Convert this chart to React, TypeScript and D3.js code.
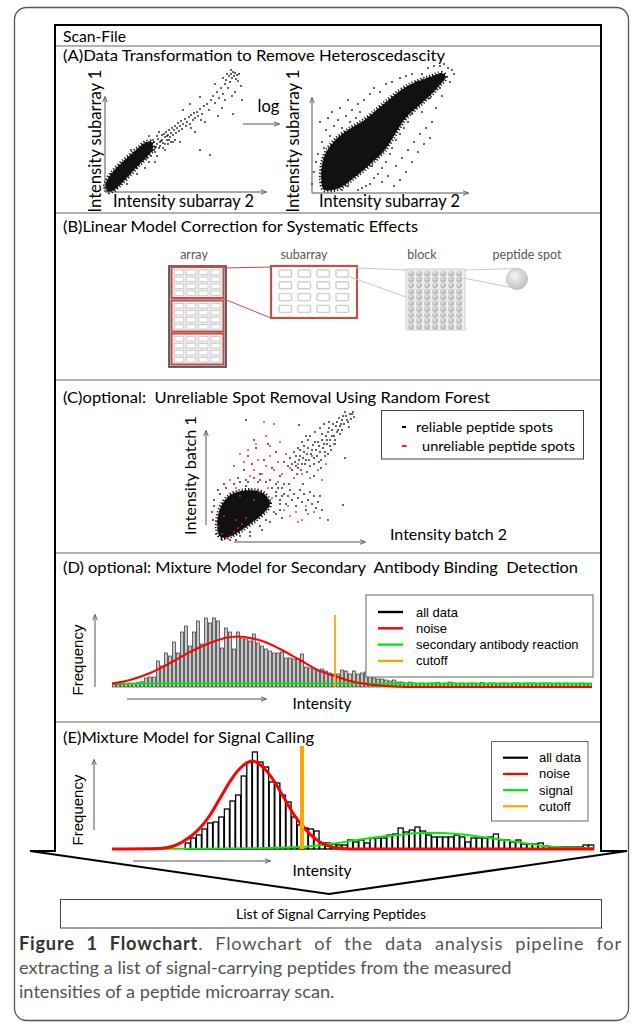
import React, { useLayoutEffect, useRef, useState } from 'react';
import * as d3 from 'd3';

const W = 633, H = 1026;
const CAL = "Lato, 'Open Sans', sans-serif";
const ARIAL = "'Liberation Sans', Arial, sans-serif";

// ---------- titles ----------
const sectionTitles = [
  { text: 'Scan-File', y: 42, len: 63 },
  { text: '(A)Data Transformation to Remove Heteroscedascity', y: 61, len: 382 },
  { text: '(B)Linear Model Correction for Systematic Effects', y: 232, len: 355 },
  { text: '(C)optional:  Unreliable Spot Removal Using Random Forest', y: 403, len: 427 },
  { text: '(D) optional: Mixture Model for Secondary  Antibody Binding  Detection', y: 573, len: 515 },
  { text: '(E)Mixture Model for Signal Calling', y: 743, len: 251 },
];
const separators = [46, 213, 380, 553, 722];

// ---------- panel A scatter (intensity units) ----------
const aLeftCore: [number, number][] = [[3,0],[0,6],[3,14],[9,22],[17,30],[26,38],[34,45],[41,50],[47,50],[48,43],[42,35],[33,26],[24,16],[15,7],[8,1]];
const aLeftPoints: [number, number][] = [
  [40,36],[42,44],[44,38],[46,46],[47,41],[49,50],[50,44],[52,48],[53,53],[55,46],[56,51],[57,57],[58,49],[60,55],[61,60],[62,52],[63,57],[64,62],[65,55],[66,59],[67,64],[68,57],[69,62],[70,66],[71,59],[72,64],[73,69],[74,61],[75,66],[76,71],[77,63],[78,68],[80,73],[81,66],[82,70],[84,75],[85,68],[86,77],[88,72],[89,79],[90,74],[92,80],[93,76],[95,83],[97,78],[99,86],[102,88],[104,82],[106,92],[108,96],[110,89],[112,100],[114,94],[116,104],[118,98],[120,108],[121,112],[123,104],[124,116],[125,110],[126,118],[127,114],[128,120],[129,116],[130,119],[131,113],[132,117],[133,111],[134,118],[126,122],[122,118],[118,114],[136,106],[130,100],[127,96],[117,84],[113,76],[100,70],[95,95],[85,88],[78,82],[70,52],[60,42],[52,36],[35,40],[30,26],[25,30],[20,14],[22,8],[15,18],[12,4],[137,92],[128,78],[90,60],[110,108],[75,50],[86,64],[96,72],[63,48],[68,50],[120,92],[95,42],[105,37],
  [30,30],[34,28],[36,34],[38,31],[26,22],[24,18],[32,24],[42,34],[44,30],[48,42],[36,38],[28,34],[18,20],[14,12],[10,14],[8,8],[16,8],[46,36],[50,40],[54,44],[41,46],[38,42],[58,44],[57,52],[52,56],[64,52],[60,48],[66,50],[44,49],[48,52],[51,45],[55,50],[59,58],[62,56],
  [20,28],[12,22],[6,18],[26,42],[40,24],[32,18],[50,30],[44,56],[54,60]
];
const aRightCore: [number, number][] = [[12,2],[9,12],[10,28],[14,40],[24,53],[37,63],[52,72],[70,87],[95,106],[117,115],[130,119],[134,115],[128,107],[121,99],[108,87],[94,74],[84,59],[73,42],[60,29],[42,14],[28,4]];
const aRightPoints: [number, number][] = [
  [10,50],[14,62],[8,70],[18,56],[22,66],[12,44],[26,72],[30,64],[6,38],[34,76],[20,80],[28,84],[38,70],[16,74],[40,82],[46,88],[36,92],[52,92],[58,98],[62,104],[48,80],[44,74],[68,100],[74,108],[80,110],[88,114],[94,116],[100,118],[104,110],[110,118],[116,124],[122,126],[128,126],[132,128],[136,124],[140,122],[142,118],[138,110],[128,104],[118,94],[112,96],[104,84],[100,78],[96,70],[92,64],[88,58],[84,52],[80,44],[78,38],[74,30],[70,24],[66,18],[62,14],[58,8],[54,6],[50,4],[46,2],[70,10],[76,16],[84,26],[90,34],[96,42],[102,50],[108,58],[114,64],[120,70],[106,40],[112,48],[118,54],[100,30],[94,20],[88,12],[82,6],[60,26],[56,30],[66,40],[72,52],[78,60],[52,48],[40,38],[32,30],[24,20],[18,14],[30,2],[36,6],[2,20],[4,30],[0,8],[124,84],[130,96],[110,80],[92,84],[86,90],[70,82],[62,78],[56,66],[50,60],[46,56],[42,50],[36,46],[30,42],[26,36],[22,30]
];

// ---------- panel C scatter ----------
const cCore: [number, number][] = [[10,3],[7,12],[8,25],[12,36],[20,45],[30,49],[41,50],[52,48],[58,42],[60,35],[55,28],[46,20],[35,12],[24,5],[15,2]];
const cReliable: [number, number][] = [
  [82,70],[85,78],[88,72],[90,84],[92,76],[94,88],[96,80],[98,92],[100,74],[101,86],[103,95],[104,82],[106,90],[108,98],[109,78],[110,88],[112,100],[113,92],[115,84],[116,104],[117,96],[118,108],[120,100],[121,90],[122,110],[124,104],[125,96],[126,114],[127,108],[84,88],[80,82],[78,74],[88,92],[92,98],[96,104],[100,104],[105,108],[110,112],[114,116],[119,118],
  [130,114],[132,120],[134,116],[136,124],[138,118],[140,126],[141,121],[143,128],[144,123],[135,128],[139,113],[132,110],
  [70,40],[74,46],[76,36],[78,44],[80,50],[82,40],[84,46],[86,34],[88,42],[90,50],[92,38],[94,46],[96,30],[98,40],[100,48],[102,36],[104,44],[106,32],[108,38],[72,52],[79,56],[93,56],[110,44],[112,30],
  [34,70],[38,84],[42,76],[46,92],[50,66],[54,80],[58,96],[62,72],[66,88],[70,64],[74,78],[44,100],[36,60],[60,60],[48,58],[66,56],
  [66,44],[68,52],[70,30],[60,38],[64,28],[56,20],[50,14],[40,8],[30,4],[20,0],[72,22],[4,40],[2,28],[8,50],[14,56],[28,62],[36,54],
  [36,120],[89,115],[133,35],[135,82],[118,20],
  [86,74],[89,80],[91,70],[93,82],[95,76],[97,86],[99,80],[102,90],[104,76],[105,98],[107,84],[109,94],[111,80],[112,106],[114,96],[115,88],[117,100],[119,112],[120,94],[122,104],[123,116],[125,100],[127,118],[128,110],[130,106],[129,122],[131,116],[133,124],[137,120],[142,126],[98,100],[94,94],[90,90],[86,84],[82,76],[87,66],[97,68],[104,64],[111,72],[118,86],
  [66,48],[62,52],[56,58],[50,60],[44,62],[38,58],[30,58],[24,56],[16,52],[10,46],[4,34],[3,20],[6,6],[12,0],[26,0],[40,4],[52,10],[60,18],[66,26],[70,36],[72,44],[74,56]
];
const cUnreliable: [number, number][] = [
  [20,4],[24,8],[16,2],[12,6],[28,12],[32,16],[8,14],[26,20],[14,24],[36,22],
  [40,64],[44,70],[48,80],[52,66],[56,74],[60,84],[64,70],[68,78],[72,66],[76,86],[80,72],[84,62],[88,76],[92,66],[60,94],[70,98],[56,104],[46,96],[38,90],[34,78],[30,86],[24,74],
  [74,30],[80,24],[86,28],[92,20],[98,26],[88,18],[78,34],[96,34],[104,28],[110,22],
  [44,40],[50,48],[58,52],[40,50],[30,44],[20,60],[26,52],[62,42],[68,58],[100,62],[108,70],[112,60],[116,76],[102,84],[124,96],[64,116],[54,118]
];
const cLegend = ['reliable peptide spots', 'unreliable peptide spots'];

// ---------- panel D histogram ----------
const dCounts = [
  2.5,2.5,2.7,3.3,3.3,3.5,4.3,5.3,9,10,
  10,26,21,34,31,45,34,55,61,41,
  55,66,43,69,64,69,66,39,59,55,
  38,55,49,48,46,53,44,41,38,36,
  34,34,35,29,29,28,28,33,20,19,
  18,16,18,16,14,13,13,17,16,13,
  16,13,14,15,12,9,8,8,7,6,
  7,5,5,4,5,4,3.5,4,3.5,4,
  4,4.5,3.5,4,5,4,3.5,4,3.5,4,
  4,3.5,4.5,3.5,4,4,3.5,4,4,3.5,
  4,4,3.5,4,4,4,3.5,4,4,4,
  3.5,4,3.5,4,3.5,3.5,3.5,4,3,3
];
const dNoise: [number, number][] = [[0,3.5],[4.5,7],[9.5,14],[14.5,24],[19.5,35],[24.5,44],[28.25,49],[31.5,50.5],[34.5,49],[38.25,45],[42,38],[47,27],[52,16],[55.75,11],[59.5,6],[64.5,2.5],[69.5,0.8],[74.5,0],[120,0]];
const dSecondary: [number, number][] = [[0,3.5],[120,3.5]];
const dCutoff = 55.75;
const dLegend = ['all data', 'noise', 'secondary antibody reaction', 'cutoff'];

// ---------- panel E histogram ----------
const eStart = 13;
const eCounts = [
  6,11,14,20,26,27,32,40,48,54,
  73,87,97,87,82,67,66,54,47,32,
  24,21,20,18,6,6,5,4,4,9,
  7,9,6,11,11,11,14,15,21,17,
  19,22,18,14,12,12,12,12,14,12,
  7,11,11,11,12,15,9,9,7,9,
  5,5,5,6,3,2,2,2,2,2,
  2,4,4
];
const eNoise: [number, number][] = [[0,0],[8.6,0.5],[11.25,3.5],[13.9,12],[15.7,21],[17.5,34],[19.3,51],[21.1,68],[22.9,81],[25,88],[27.1,81],[28.9,68],[30.7,51],[32.5,34],[34.3,21],[36.1,11],[37.9,4.5],[39.8,1.5],[42.5,0],[86,0]];
const eSignal: [number, number][] = [[0,0],[15.7,0.3],[24.6,0.8],[33.6,2],[38.9,5],[44.8,10],[50.9,14],[55,16],[58.6,16],[61.6,15],[67.5,11],[72.3,7],[77,3],[80.5,1.5],[86,1]];
const eCutoff = 33.9;
const eLegend = ['all data', 'noise', 'signal', 'cutoff'];
const legendColors = ['#000000', '#ff0000', '#00ee00', '#ffa500'];

const captionBold = 'Figure 1 Flowchart';
const captionLines = [
  '. Flowchart of the data analysis pipeline for',
  'extracting a list of signal-carrying peptides from the measured',
  'intensities of a peptide microarray scan.',
];

function Dots({ pts, sx, sy, fill }: any) {
  return (
    <g fill={fill}>
      {pts.map((p: [number, number], i: number) => (
        <rect key={i} x={sx(p[0]) - 0.8} y={sy(p[1]) - 0.8} width={1.6} height={1.6} />
      ))}
    </g>
  );
}

function Core({ pts, sx, sy }: any) {
  const g = d3.line<[number, number]>().x(d => sx(d[0])).y(d => sy(d[1])).curve(d3.curveCatmullRomClosed.alpha(0.5));
  const d = g(pts) || '';
  return (
    <g>
      <path d={d} fill="#111" />
      <path d={d} fill="none" stroke="#111" strokeWidth={4} strokeDasharray="1.2 1.9" />
      <path d={d} fill="none" stroke="#fff" strokeWidth={1.2} strokeDasharray="0.8 3.1" />
    </g>
  );
}

function Arrow({ x1, y1, x2, y2 }: any) {
  return <line x1={x1} y1={y1} x2={x2} y2={y2} stroke="#555" strokeWidth={1} markerEnd="url(#ah)" />;
}

export default function App() {
  const cap1 = useRef<SVGTextElement>(null);
  const [sp, setSp] = useState({ word: 0, letter: 0 });
  useLayoutEffect(() => {
    if (cap1.current) {
      const full = captionBold + captionLines[0];
      const len = cap1.current.getComputedTextLength();
      const extra = Math.max(0, 602 - len);
      const spaces = full.split(' ').length - 1;
      const letters = full.length - 1;
      setSp({ word: (extra * 0.55) / spaces, letter: (extra * 0.45) / letters });
    }
  }, []);

  const aLx = d3.scaleLinear().domain([0, 160]).range([105, 265]);
  const aRx = d3.scaleLinear().domain([0, 160]).range([312, 472]);
  const aY = d3.scaleLinear().domain([0, 120]).range([192, 72]);
  const cX = d3.scaleLinear().domain([0, 150]).range([210, 360]);
  const cY = d3.scaleLinear().domain([0, 130]).range([540, 410]);
  const dX = d3.scaleLinear().domain([0, 120]).range([112, 592]);
  const dY = d3.scaleLinear().domain([0, 70]).range([687, 617]);
  const eX = d3.scaleLinear().domain([0, 86]).range([112, 594]);
  const eY = d3.scaleLinear().domain([0, 100]).range([849, 749]);

  const dLine = d3.line<[number, number]>().x(d => dX(d[0])).y(d => dY(d[1])).curve(d3.curveMonotoneX);
  const eLine = d3.line<[number, number]>().x(d => eX(d[0])).y(d => eY(d[1])).curve(d3.curveMonotoneX);

  const arraySubs = [267, 300.5, 333.5];
  const cellCols = d3.range(4), cellRows = d3.range(4);
  const blockCols = d3.range(7), blockRows = d3.range(10);

  return (
    <svg width={W} height={H} style={{ position: 'absolute', left: 0, top: 0, background: '#fff' }} fontFamily={CAL}>
      <defs>
        <marker id="ah" viewBox="0 0 10 10" refX={9} refY={5} markerWidth={6} markerHeight={6} markerUnits="userSpaceOnUse" orient="auto">
          <path d="M0,1 L10,5 L0,9" fill="none" stroke="#555" strokeWidth={1.5} />
        </marker>
        <radialGradient id="spot" cx="40%" cy="35%" r="70%">
          <stop offset="0%" stopColor="#f4f4f4" />
          <stop offset="100%" stopColor="#bdbdbd" />
        </radialGradient>
        <radialGradient id="bspot" cx="40%" cy="35%" r="70%">
          <stop offset="0%" stopColor="#e6e6e6" />
          <stop offset="100%" stopColor="#a8a8a8" />
        </radialGradient>
      </defs>

      <rect x={14.5} y={7.5} width={614} height={1013} rx={12} fill="none" stroke="#555" strokeWidth={1.3} />

      <path d="M55,25 L601,25 L601,851 L627,851 L329,894 L30,851 L55,851 Z" fill="none" stroke="#000" strokeWidth={2} strokeLinejoin="miter" />
      {separators.map(y => (
        <line key={y} x1={56} x2={600} y1={y} y2={y} stroke="#666" strokeWidth={1} />
      ))}
      {sectionTitles.map(t => (
        <text key={t.text} x={63} y={t.y} fontSize={15} fill="#000" textLength={t.len} lengthAdjust="spacingAndGlyphs" style={{ whiteSpace: 'pre' }}>{t.text}</text>
      ))}

      {/* Panel A */}
      <Core pts={aLeftCore} sx={aLx} sy={aY} />
      <Dots pts={aLeftPoints} sx={aLx} sy={aY} fill="#111" />
      <Arrow x1={105} y1={192} x2={105} y2={97} />
      <Arrow x1={105} y1={192} x2={266} y2={192} />
      <text transform="translate(101,141) rotate(-90)" textAnchor="middle" fontSize={16.5} textLength={143} lengthAdjust="spacingAndGlyphs">Intensity subarray 1</text>
      <text x={183.5} y={207} textAnchor="middle" fontSize={16.5} textLength={141} lengthAdjust="spacingAndGlyphs">Intensity subarray 2</text>
      <text x={268.5} y={112} textAnchor="middle" fontSize={16.5}>log</text>
      <Arrow x1={243} y1={124} x2={279} y2={124} />
      <Core pts={aRightCore} sx={aRx} sy={aY} />
      <Dots pts={aRightPoints} sx={aRx} sy={aY} fill="#111" />
      <Arrow x1={312} y1={193} x2={312} y2={98} />
      <Arrow x1={312} y1={193} x2={468} y2={193} />
      <text transform="translate(299,141) rotate(-90)" textAnchor="middle" fontSize={16.5} textLength={143} lengthAdjust="spacingAndGlyphs">Intensity subarray 1</text>
      <text x={389.5} y={207} textAnchor="middle" fontSize={16.5} textLength={141} lengthAdjust="spacingAndGlyphs">Intensity subarray 2</text>

      {/* Panel B */}
      <g fontSize={12.5} fill="#595959" textAnchor="middle">
        <text x={194} y={259}>array</text>
        <text x={304} y={259}>subarray</text>
        <text x={422} y={259}>block</text>
        <text x={527} y={259}>peptide spot</text>
      </g>
      <rect x={169} y={266} width={57} height={101} fill="#dcdcdc" stroke="#333" strokeWidth={1.5} />
      {arraySubs.map((y0, k) => (
        <g key={k}>
          <rect x={171.5} y={y0} width={52} height={31} fill="#e9e9e9" stroke="#c0504d" strokeWidth={2} />
          {cellCols.map(c => cellRows.map(r => (
            <rect key={`${c}-${r}`} x={174.5 + c * 12.2} y={y0 + 3 + r * 7} width={9} height={4.5} fill="#fff" stroke="#c8c8c8" strokeWidth={0.8} />
          )))}
        </g>
      ))}
      <line x1={224} y1={268} x2={271} y2={267} stroke="#c0504d" strokeWidth={1} />
      <line x1={224} y1={299} x2={271} y2={318} stroke="#c0504d" strokeWidth={1} />
      <rect x={271} y={266} width={86} height={52} fill="#fff" stroke="#c0504d" strokeWidth={2.2} />
      {cellCols.map(c => cellRows.map(r => (
        <rect key={`s${c}-${r}`} x={279 + c * 19} y={270 + r * 11.8} width={12.5} height={7} rx={1} fill="#fff" stroke="#cfcfcf" strokeWidth={1.4} />
      )))}
      <line x1={356} y1={268} x2={406} y2={270} stroke="#c8c8c8" strokeWidth={1} />
      <line x1={350} y1={277} x2={406} y2={297} stroke="#c8c8c8" strokeWidth={1} />
      <rect x={406} y={269} width={59} height={61} fill="#ededed" stroke="#d0d0d0" strokeWidth={1} />
      {blockCols.map(c => blockRows.map(r => (
        <ellipse key={`b${c}-${r}`} cx={411 + c * 8} cy={273.5 + r * 5.9} rx={3} ry={2.8} fill="url(#bspot)" />
      )))}
      <line x1={465} y1={270} x2={517} y2={268.5} stroke="#c8c8c8" strokeWidth={1} />
      <line x1={463} y1={278} x2={514} y2={288} stroke="#c8c8c8" strokeWidth={1} />
      <circle cx={517} cy={279} r={10.5} fill="url(#spot)" stroke="#c4c4c4" strokeWidth={1} />

      {/* Panel C */}
      <Core pts={cCore} sx={cX} sy={cY} />
      <Dots pts={cReliable} sx={cX} sy={cY} fill="#111" />
      <Dots pts={cUnreliable} sx={cX} sy={cY} fill="#ff1a1a" />
      <Arrow x1={206} y1={525} x2={206} y2={431} />
      <Arrow x1={234} y1={542} x2={365} y2={542} />
      <text transform="translate(196,475.5) rotate(-90)" textAnchor="middle" fontSize={16} textLength={119} lengthAdjust="spacingAndGlyphs">Intensity batch 1</text>
      <text x={448.5} y={540} textAnchor="middle" fontSize={16} textLength={117} lengthAdjust="spacingAndGlyphs">Intensity batch 2</text>
      <rect x={381.5} y={410.5} width={202} height={48.5} fill="#fff" stroke="#444" strokeWidth={1} />
      <rect x={402} y={426} width={4} height={2} fill="#000" />
      <rect x={402} y={445} width={4.5} height={2} fill="#ff1a1a" />
      <text x={416} y={432} fontSize={14} textLength={137} lengthAdjust="spacingAndGlyphs">{cLegend[0]}</text>
      <text x={422} y={451} fontSize={14} textLength={153} lengthAdjust="spacingAndGlyphs">{cLegend[1]}</text>

      {/* Panel D */}
      <g>
        {dCounts.map((v, i) => (
          <rect key={i} x={dX(i) + 0.4} y={dY(v)} width={dX(i + 1) - dX(i) - 0.9} height={dY(0) - dY(v)} fill="#c8c8c8" stroke="#333" strokeWidth={0.7} />
        ))}
      </g>
      <path d={dLine(dSecondary) || ''} fill="none" stroke="#00ee00" strokeWidth={2.2} />
      <path d={dLine(dNoise) || ''} fill="none" stroke="#ff0000" strokeWidth={2} />
      <line x1={dX(dCutoff)} x2={dX(dCutoff)} y1={dY(0)} y2={dY(72)} stroke="#ffa500" strokeWidth={1.8} />
      <Arrow x1={95} y1={687} x2={95} y2={615} />
      <Arrow x1={127} y1={699} x2={266} y2={699} />
      <text transform="translate(83,660) rotate(-90)" textAnchor="middle" fontSize={15} fontFamily={ARIAL}>Frequency</text>
      <text x={322} y={708.5} textAnchor="middle" fontSize={15.5}>Intensity</text>
      <rect x={366} y={595} width={227} height={82} fill="#fff" stroke="#666" strokeWidth={1} />
      {dLegend.map((t, i) => (
        <g key={t}>
          <line x1={378} x2={403} y1={612 + i * 16.3} y2={612 + i * 16.3} stroke={legendColors[i]} strokeWidth={2.4} />
          <text x={416} y={616.5 + i * 16.3} fontSize={13} fontFamily={ARIAL} fill="#000">{t}</text>
        </g>
      ))}

      {/* Panel E */}
      <g>
        {eCounts.map((v, i) => (
          <rect key={i} x={eX(eStart + i) + 0.3} y={eY(v)} width={eX(eStart + i + 1) - eX(eStart + i) - 0.6} height={eY(0) - eY(v)} fill="#fff" stroke="#000" strokeWidth={1.3} />
        ))}
      </g>
      <path d={eLine(eSignal) || ''} fill="none" stroke="#00ee00" strokeWidth={1.8} />
      <path d={eLine(eNoise) || ''} fill="none" stroke="#ff0000" strokeWidth={3} />
      <line x1={eX(eCutoff)} x2={eX(eCutoff)} y1={eY(0)} y2={eY(103)} stroke="#ffa500" strokeWidth={4} />
      <Arrow x1={94} y1={830} x2={94} y2={760} />
      <Arrow x1={133} y1={861} x2={270} y2={861} />
      <text transform="translate(83,810) rotate(-90)" textAnchor="middle" fontSize={15} fontFamily={ARIAL}>Frequency</text>
      <text x={322} y={875.5} textAnchor="middle" fontSize={15.5}>Intensity</text>
      <rect x={491.5} y={741.5} width={96.5} height={79.5} fill="#fff" stroke="#666" strokeWidth={1} />
      {eLegend.map((t, i) => (
        <g key={t}>
          <line x1={503} x2={528} y1={757.7 + i * 16.2} y2={757.7 + i * 16.2} stroke={legendColors[i]} strokeWidth={2.2} />
          <text x={539} y={762.2 + i * 16.2} fontSize={13} fontFamily={ARIAL} fill="#000">{t}</text>
        </g>
      ))}

      {/* Output box */}
      <rect x={60.5} y={899.5} width={541} height={28.5} fill="#fff" stroke="#444" strokeWidth={1} />
      <text x={331} y={919} textAnchor="middle" fontSize={14}>List of Signal Carrying Peptides</text>

      {/* Caption */}
      <g fontSize={18.2} fill="#555">
        <text ref={cap1} x={19} y={950} style={{ wordSpacing: `${sp.word}px`, letterSpacing: `${sp.letter}px` }}>
          <tspan fontWeight="bold" fill="#333">{captionBold}</tspan>
          <tspan>{captionLines[0]}</tspan>
        </text>
        <text x={19} y={974}>{captionLines[1]}</text>
        <text x={19} y={998}>{captionLines[2]}</text>
      </g>
    </svg>
  );
}
